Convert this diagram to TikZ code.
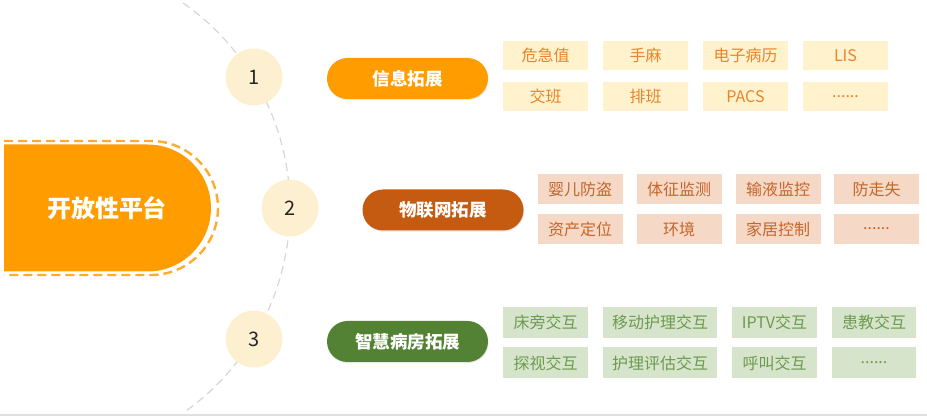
\documentclass[tikz,border=0pt]{standalone}
\usepackage{fontspec}
\setmainfont{Noto Sans CJK SC}
\usepackage{tikz}
\usetikzlibrary{shadows}

\definecolor{platorange}{HTML}{FF9C00}
\definecolor{platdash}{HTML}{FFAB2E}
\definecolor{numfill}{HTML}{FDF0D0}
\definecolor{arcgray}{HTML}{D6D6D6}
\definecolor{infofill}{HTML}{FFF2CC}
\definecolor{infotext}{HTML}{E9842B}
\definecolor{iotpill}{HTML}{C55A11}
\definecolor{iotfill}{HTML}{F5D9C6}
\definecolor{iottext}{HTML}{C6652A}
\definecolor{wardpill}{HTML}{548235}
\definecolor{wardfill}{HTML}{D6E4CC}
\definecolor{wardtext}{HTML}{6D9A4F}
\newcommand{\moredots}{......}

\begin{document}
\begin{tikzpicture}[x=1pt, y=1pt,
    num node/.style={circle,fill=numfill,minimum size=57pt,inner sep=0pt,
                     font=\fontsize{20}{20}\selectfont,text=black!85},
    tag node/.style={rounded corners=20.5pt,minimum width=161pt,minimum height=41pt,inner sep=0pt,
                     text=white,font=\fontsize{17.5}{18}\selectfont\bfseries,
                     drop shadow={shadow xshift=0.6pt,shadow yshift=-1.2pt,opacity=0.18}},
    item node/.style={minimum width=85pt,minimum height=29pt,inner sep=0pt,
                      font=\fontsize{16}{16}\selectfont}]

  \useasboundingbox (0,0) rectangle (927,418);
  \draw[gray!25, line width=1.5pt] (0,3) -- (927,3);

  % dashed arc behind the numbers
  \draw[arcgray, line width=1.2pt, dash pattern=on 8pt off 5pt]
    (40,210) ++(-54:250pt) arc[start angle=-54, end angle=56, radius=250pt];

  % platform block
  \fill[platorange] (4,146.5) -- (147.5,146.5) arc[start angle=-90, end angle=90, radius=63.5pt] -- (4,273.5) -- cycle;
  \draw[platdash, line width=2.4pt, dash pattern=on 9pt off 5pt]
    (4,277) -- (151,277) arc[start angle=90, end angle=-90, radius=67pt] -- (4,143);
  \node[text=white, font=\fontsize{24}{24}\selectfont\bfseries] (plat) at (107,210) {开放性平台};

  \node[num node] (1) at (254,341) {1};
  \node[num node] (2) at (290,210) {2};
  \node[num node] (3) at (254,79) {3};

  \node[tag node, fill=platorange] (t1) at (407.5,339.5) {信息拓展};
  \node[tag node, fill=iotpill] (t2) at (443,208) {物联网拓展};
  \node[tag node, fill=wardpill] (t3) at (407.5,76.5) {智慧病房拓展};

  % info row
  \foreach \x/\txt [count=\i] in {545.5/危急值, 645.5/手麻, 745.5/电子病历, 845.5/LIS}
    \node[item node, fill=infofill, text=infotext] (a\i) at (\x,362.5) {\txt};
  \foreach \x/\txt [count=\i] in {545.5/交班, 645.5/排班, 745.5/PACS, 845.5/\moredots}
    \node[item node, fill=infofill, text=infotext] (b\i) at (\x,321.5) {\txt};

  % iot row
  \foreach \x/\txt [count=\i] in {580/婴儿防盗, 679/体征监测, 778/输液监控, 876.5/防走失}
    \node[item node, minimum height=30pt, fill=iotfill, text=iottext] (c\i) at (\x,229) {\txt};
  \foreach \x/\txt [count=\i] in {580/资产定位, 679/环境, 778/家居控制, 876.5/\moredots}
    \node[item node, minimum height=30pt, fill=iotfill, text=iottext] (d\i) at (\x,189) {\txt};

  % ward row
  \foreach \x/\w/\txt [count=\i] in {545.5/85/床旁交互, 660/114/移动护理交互, 774.5/85/IPTV交互, 874/84/患教交互}
    \node[item node, minimum width=\w pt, minimum height=31pt, fill=wardfill, text=wardtext] (e\i) at (\x,95.5) {\txt};
  \foreach \x/\w/\txt [count=\i] in {545.5/85/探视交互, 660/114/护理评估交互, 774.5/85/呼叫交互, 874/84/\moredots}
    \node[item node, minimum width=\w pt, minimum height=31pt, fill=wardfill, text=wardtext] (f\i) at (\x,55) {\txt};

\end{tikzpicture}
\end{document}
